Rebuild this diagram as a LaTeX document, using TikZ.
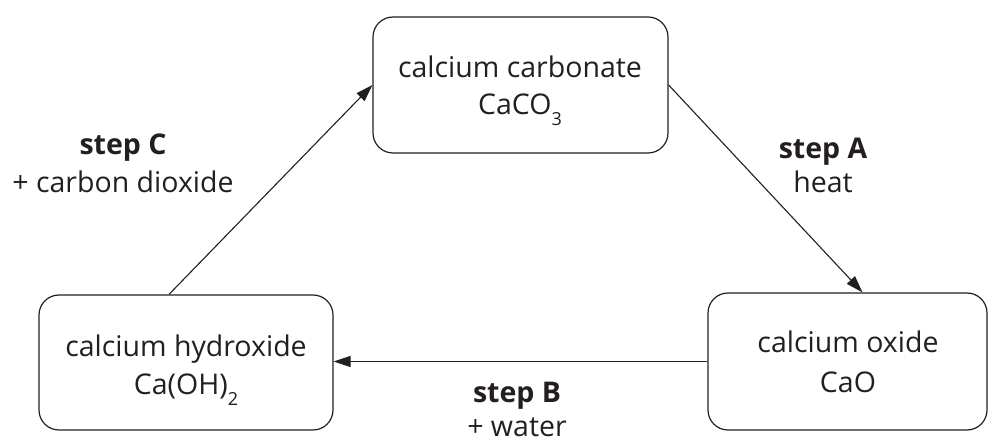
\documentclass[tikz,border=0pt]{standalone}
\usepackage{fontspec}
\setmainfont{Open Sans}
\usetikzlibrary{arrows.meta,calc}
\definecolor{ink}{HTML}{231F20}
\newcommand{\chemsub}[1]{\raisebox{-0.36em}{\fontsize{18}{18}\selectfont #1}}
\tikzset{
  compound/.style={draw=ink, line width=1.2pt, rounded corners=20pt, inner sep=0pt},
  ctext/.style={anchor=base, text=ink, font=\fontsize{28.5}{32}\selectfont, inner sep=0pt},
  conv/.style={draw=ink, line width=1.1pt, -{Triangle[length=17pt,width=11pt]}},
  lbl/.style={anchor=base, text=ink, font=\fontsize{28.5}{32}\selectfont, inner sep=0pt},
  lblb/.style={lbl, font=\fontsize{28.5}{32}\selectfont\bfseries}
}
\begin{document}
\begin{tikzpicture}[x=1pt,y=1pt]
\useasboundingbox (0,0) rectangle (989,442);
\node[compound, minimum width=295pt, minimum height=136pt] (top) at (520.5,357) {};
\node[compound, minimum width=294pt, minimum height=135pt] (left) at (186,79.5) {};
\node[compound, minimum width=279pt, minimum height=137pt] (right) at (847.5,80.5) {};
\node[ctext] (top1) at (520,364) {calcium carbonate};
\node[ctext] (top2) at (520,327) {CaCO\chemsub{3}};
\node[ctext] (left1) at (186,85) {calcium hydroxide};
\node[ctext] (left2) at (186,47) {Ca(OH)\chemsub{2}};
\node[ctext] (right1) at (848,89) {calcium oxide};
\node[ctext] (right2) at (848,49) {CaO};
\coordinate (aend) at ($(right.north)+(15,0)$);
\coordinate (cstart) at ($(left.north)+(-17,0)$);
\draw[conv] (top.east) -- (aend);
\draw[conv] (right.west) -- (right.west -| left.east);
\draw[conv] (cstart) -- (top.west);
\node[lblb] (sa) at (823,283) {step A};
\node[lbl] (ha) at (823,249) {heat};
\node[lblb] (sb) at (517,39) {step B};
\node[lbl] (hb) at (517,5.5) {+ water};
\node[lblb] (sc) at (123,287) {step C};
\node[lbl] (hc) at (123,249) {+ carbon dioxide};
\end{tikzpicture}
\end{document}
